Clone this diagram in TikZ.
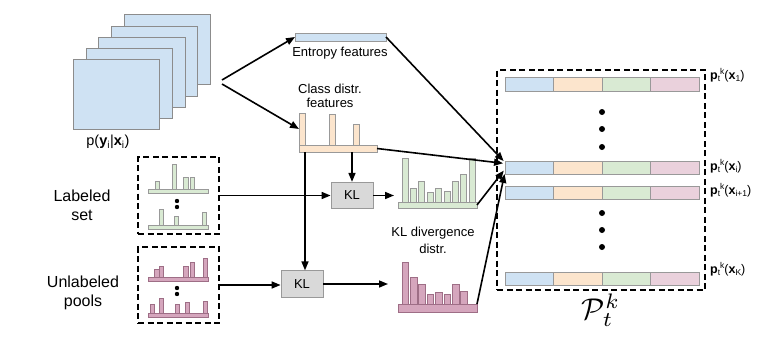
\documentclass[tikz,border=0pt]{standalone}
\usepackage{fontspec}
\setmainfont{Liberation Sans}
\usetikzlibrary{arrows.meta,calc}
\definecolor{cblue}{HTML}{CFE2F3}
\definecolor{corange}{HTML}{FCE5CD}
\definecolor{cgreen}{HTML}{D9EAD3}
\definecolor{cpink}{HTML}{EAD1DC}
\definecolor{cpinkd}{HTML}{D5A6BD}
\definecolor{cgrayb}{HTML}{999999}
\definecolor{csq}{HTML}{8C8C8C}
\definecolor{cpinkb}{HTML}{9E6E86}
\definecolor{ckl}{HTML}{D9D9D9}
\newcommand{\psub}[1]{\raisebox{-2.2pt}{\fontsize{8.5}{9}\selectfont #1}}
\newcommand{\psup}[1]{\raisebox{4.5pt}{\fontsize{8.5}{9}\selectfont #1}}
\begin{document}
\begin{tikzpicture}[x=1pt,y=-1pt,
  box/.style={draw=cgrayb, line width=0.8pt, inner sep=0pt, outer sep=0pt, anchor=north west},
  sqbox/.style={draw=csq, fill=cblue, line width=0.8pt},
  gbar/.style={draw=cgrayb, fill=cgreen, line width=0.7pt},
  pbar/.style={draw=cpinkb, fill=cpinkd, line width=0.7pt},
  obar/.style={draw=cgrayb, fill=corange, line width=0.7pt},
  arr/.style={line width=1.6pt, -{Triangle[length=9pt,width=7pt]}},
  dbox/.style={draw, line width=1.6pt, dash pattern=on 6pt off 3.5pt, inner sep=0pt, outer sep=0pt, anchor=north west},
  klbox/.style={draw=cgrayb, fill=ckl, line width=0.8pt, inner sep=0pt, minimum width=42, minimum height=26.5, font=\fontsize{13}{15}\selectfont},
  txt/.style={font=\fontsize{13}{14}\selectfont, align=center, inner sep=0pt},
  bigtxt/.style={font=\fontsize{16}{19}\selectfont, align=center, inner sep=0pt},
  plab/.style={font=\fontsize{12.5}{13}\selectfont, anchor=west, inner sep=0pt},
  dotf/.style={fill=black}]
\useasboundingbox (0,0) rectangle (761,343);

% stack of probability maps
\draw[sqbox] (124,14) rectangle (210,84);
\draw[sqbox] (111,26) rectangle (197,96);
\draw[sqbox] (98,37) rectangle (185,107);
\draw[sqbox] (86,48) rectangle (172,118);
\node[sqbox, inner sep=0pt, outer sep=0pt, anchor=north west, minimum width=86, minimum height=70] (sq) at (73,59) {};
\node[txt, font=\fontsize{14.5}{16}\selectfont] (plabel) at (108,142) {p(\textbf{y}\textsubscript{i}|\textbf{x}\textsubscript{i})};
\coordinate (src1) at (222,80);
\coordinate (src2) at (222,84);

% entropy features
\node[box, fill=cblue, minimum width=91, minimum height=8] (ent) at (295,33) {};
\node[txt] (enttxt) at (340,53) {Entropy features};

% class distribution features
\node[txt, font=\fontsize{13}{14}\selectfont] (clstxt) at (330,96) {Class distr.\\features};
\node[box, fill=corange, minimum width=6, minimum height=32] (cb1) at (299,113) {};
\draw[obar] (329,114) rectangle (335,145);
\draw[obar] (353,124) rectangle (359,145);
\node[box, fill=corange, minimum width=78, minimum height=7] (cls) at (299,145) {};

% labeled set
\node[bigtxt] (labtxt) at (82,205.5) {Labeled\\set};
\node[dbox, minimum width=81, minimum height=77] (lab) at (138,157) {};
\draw[gbar] (155,181) rectangle (159,189);
\draw[gbar] (172,164) rectangle (176,189);
\draw[gbar] (183.5,177) rectangle (188,189);
\draw[gbar] (190,177) rectangle (194,189);
\draw[gbar] (148,189) rectangle (208,193);
\fill[dotf] (177,201) circle (2.2);
\fill[dotf] (177,207) circle (2.2);
\draw[gbar] (159,209) rectangle (163,225);
\draw[gbar] (174,216) rectangle (178,225);
\draw[gbar] (202,212) rectangle (206,225);
\draw[gbar] (148,225) rectangle (208,229);

% unlabeled pools
\node[bigtxt] (unltxt) at (83,293) {Unlabeled\\pools};
\node[dbox, minimum width=81, minimum height=76] (unl) at (138,247) {};
\draw[pbar] (154.5,269) rectangle (159,277);
\draw[pbar] (159,266) rectangle (163.5,277);
\draw[pbar] (183.5,266) rectangle (188,277);
\draw[pbar] (190,262) rectangle (194.5,277);
\draw[pbar] (203,258) rectangle (207,277);
\draw[pbar] (148,277) rectangle (208,281);
\fill[dotf] (177,288) circle (2.2);
\fill[dotf] (177,294) circle (2.2);
\draw[pbar] (150,304) rectangle (154,313);
\draw[pbar] (159,298) rectangle (163.5,313);
\draw[pbar] (175,304) rectangle (179,313);
\draw[pbar] (185,302) rectangle (189,313);
\draw[pbar] (203,301) rectangle (207,313);
\draw[pbar] (148,313) rectangle (208,317);

% KL boxes
\node[klbox] (kl1) at (352,195.5) {KL};
\node[klbox] (kl2) at (302,284) {KL};

% KL divergence histograms
\foreach \i/\t in {0/158,1/188,2/181,3/192,4/188,5/191,6/181,7/174,8/158}
  \draw[gbar] ({402+8.4*\i},\t) rectangle ({408+8.4*\i},202);
\node[box, fill=cgreen, minimum width=79, minimum height=6] (ghb) at (398,202) {};
\node[txt, font=\fontsize{13}{17}\selectfont] (kltxt) at (433,240.5) {KL divergence\\distr.};
\foreach \i/\t in {0/262,1/277,2/284,3/294,4/292,5/294,6/284,7/291}
  \draw[pbar] ({402+8.4*\i},\t) rectangle ({408.5+8.4*\i},304);
\node[box, draw=cpinkb, fill=cpinkd, minimum width=79, minimum height=8] (phb) at (398,304) {};

% output matrix
\node[dbox, minimum width=208, minimum height=220] (big) at (497,70) {};
\foreach \n/\y/\h in {1/77/14, i/161/13, j/186/13, K/272/13} {
  \node[box, fill=cblue, minimum width=48.5, minimum height=\h] (r\n a) at (505,\y) {};
  \node[box, fill=corange, minimum width=48.5, minimum height=\h] (r\n b) at (553.5,\y) {};
  \node[box, fill=cgreen, minimum width=48.5, minimum height=\h] (r\n c) at (602,\y) {};
  \node[box, fill=cpink, minimum width=48.5, minimum height=\h] (r\n d) at (650.5,\y) {};
}
\foreach \y in {112,129,147,213,230,247} \fill[dotf] (602,\y) circle (3);
\node[plab] (p1) at (710,75) {\textbf{p}\psub{t}\psup{k}(\textbf{x}\psub{1})};
\node[plab] (pi) at (710,166) {\textbf{p}\psub{t}\psup{k}(\textbf{x}\psub{i})};
\node[plab] (pj) at (710,190) {\textbf{p}\psub{t}\psup{k}(\textbf{x}\psub{i+1})};
\node[plab] (pK) at (710,269) {\textbf{p}\psub{t}\psup{k}(\textbf{x}\psub{K})};
\node[inner sep=0pt, scale=3] (Ptk) at (601,310) {$\mathcal{P}_t^k$};

% connectors
\draw[arr] (src1) -- (ent.west);
\draw[arr] (src2) -- (cb1.west);
\draw[arr] (kl1.north |- cls.south) -- (kl1.north);
\draw[arr] ([xshift=6pt]cls.south west) -- ([xshift=6pt]cls.south west |- kl2.north);
\draw[arr] (lab.east) -- (lab.east -| kl1.west);
\draw[arr] (unl.east) -- (unl.east -| kl2.west);
\draw[arr] (kl1.east) -- ($(kl1.east -| ghb.west)+(-4,0)$);
\draw[arr] (kl2.east) -- ($(kl2.east -| phb.west)+(-10,0)$);
\draw[arr, shorten >=2pt] (ent.east) -- ([yshift=5pt]ria.west);
\draw[arr, shorten >=2pt] (cls.east) -- ([yshift=4pt]ria.west);
\draw[arr, shorten >=2pt] (ghb.east) -- ([yshift=-1.5pt]ria.west);
\draw[arr, shorten >=2pt] (phb.north east) -- ([yshift=-4.5pt]ria.west);
\end{tikzpicture}
\end{document}
